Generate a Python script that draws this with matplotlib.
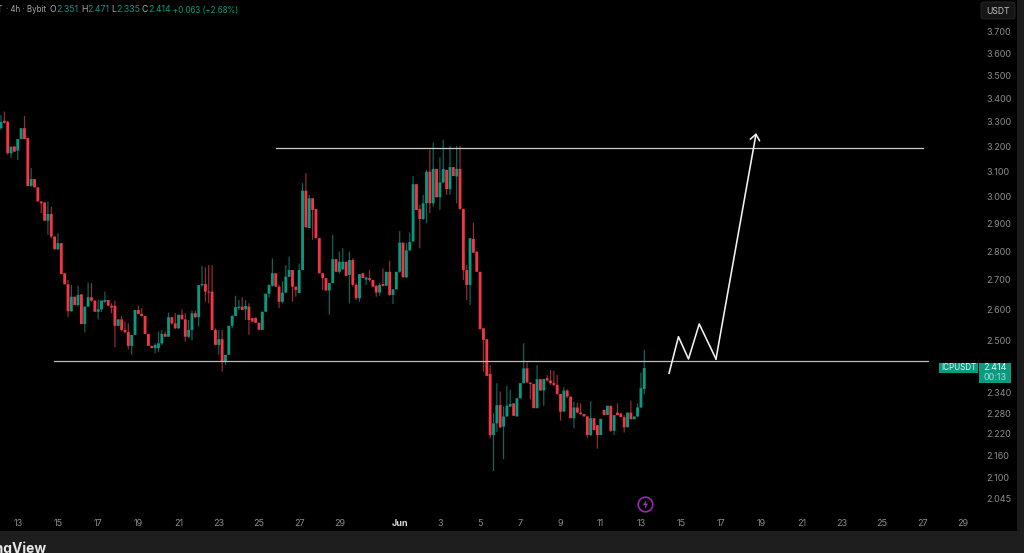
import pandas as pd
import matplotlib
matplotlib.use("Agg")
import matplotlib.pyplot as plt
from matplotlib.patches import Rectangle, FancyBboxPatch

# 4h candles
opens = [3.274, 3.305, 3.301, 3.171, 3.199, 3.182, 3.229, 3.274, 3.233, 3.042,
         3.069, 3.037, 2.983, 2.979, 2.911, 2.936, 2.853, 2.807, 2.829, 2.723,
         2.685, 2.595, 2.643, 2.615, 2.651, 2.553, 2.610, 2.641, 2.630, 2.593,
         2.601, 2.626, 2.632, 2.613, 2.613, 2.547, 2.568, 2.534, 2.527, 2.483,
         2.518, 2.599, 2.586, 2.579, 2.521, 2.483, 2.476, 2.476, 2.491, 2.521,
         2.512, 2.575, 2.555, 2.539, 2.583, 2.568, 2.512, 2.534, 2.588, 2.575,
         2.682, 2.686, 2.660, 2.660, 2.534, 2.486, 2.504, 2.434, 2.455, 2.547,
         2.579, 2.605, 2.610, 2.601, 2.610, 2.572, 2.572, 2.557, 2.534, 2.593,
         2.653, 2.680, 2.723, 2.677, 2.626, 2.657, 2.711, 2.734, 2.677, 2.655,
         2.734, 3.024, 2.884, 2.995, 2.954, 2.847, 2.723, 2.706, 2.664, 2.689,
         2.772, 2.728, 2.737, 2.763, 2.717, 2.769, 2.683, 2.638, 2.723, 2.701,
         2.706, 2.700, 2.680, 2.657, 2.686, 2.680, 2.728, 2.649, 2.668, 2.728,
         2.831, 2.709, 2.803, 2.835, 3.049, 2.954, 2.917, 2.976, 3.098, 2.976,
         3.109, 2.999, 3.056, 3.105, 3.030, 3.116, 3.079, 3.109, 2.955, 2.734,
         2.683, 2.844, 2.799, 2.728, 2.539, 2.504, 2.396, 2.217, 2.250, 2.303,
         2.241, 2.270, 2.299, 2.308, 2.270, 2.323, 2.368, 2.413, 2.370, 2.366,
         2.294, 2.380, 2.346, 2.383, 2.376, 2.368, 2.363, 2.336, 2.284, 2.346,
         2.328, 2.265, 2.296, 2.281, 2.277, 2.270, 2.217, 2.265, 2.245, 2.217,
         2.289, 2.274, 2.301, 2.229, 2.281, 2.279, 2.268, 2.239, 2.281, 2.262,
         2.270, 2.296, 2.351]
highs = [3.329, 3.344, 3.305, 3.198, 3.199, 3.229, 3.274, 3.325, 3.233, 3.112,
         3.069, 3.037, 2.983, 2.979, 2.983, 2.963, 2.853, 2.865, 2.829, 2.723,
         2.700, 2.683, 2.643, 2.680, 2.651, 2.610, 2.691, 2.689, 2.630, 2.632,
         2.630, 2.660, 2.632, 2.621, 2.630, 2.568, 2.579, 2.561, 2.555, 2.518,
         2.599, 2.613, 2.605, 2.579, 2.521, 2.483, 2.491, 2.529, 2.534, 2.529,
         2.590, 2.577, 2.588, 2.583, 2.601, 2.588, 2.566, 2.597, 2.597, 2.682,
         2.748, 2.743, 2.751, 2.751, 2.539, 2.534, 2.534, 2.455, 2.547, 2.583,
         2.646, 2.632, 2.641, 2.632, 2.621, 2.572, 2.575, 2.557, 2.593, 2.653,
         2.683, 2.775, 2.723, 2.683, 2.694, 2.751, 2.781, 2.734, 2.677, 2.757,
         3.053, 3.092, 3.008, 2.995, 2.954, 2.847, 2.723, 2.706, 2.689, 2.859,
         2.772, 2.799, 2.811, 2.763, 2.799, 2.775, 2.689, 2.720, 2.723, 2.711,
         2.734, 2.700, 2.683, 2.689, 2.740, 2.728, 2.767, 2.668, 2.728, 2.873,
         2.831, 2.829, 2.867, 3.081, 3.049, 2.970, 3.008, 3.105, 3.185, 3.215,
         3.109, 3.156, 3.226, 3.105, 3.201, 3.116, 3.201, 3.201, 2.955, 2.751,
         2.847, 2.904, 2.799, 2.728, 2.539, 2.504, 2.423, 2.280, 2.368, 2.343,
         2.299, 2.360, 2.348, 2.308, 2.323, 2.368, 2.491, 2.431, 2.370, 2.366,
         2.423, 2.380, 2.381, 2.393, 2.408, 2.406, 2.393, 2.336, 2.356, 2.350,
         2.328, 2.313, 2.310, 2.308, 2.277, 2.270, 2.315, 2.265, 2.245, 2.263,
         2.289, 2.301, 2.301, 2.274, 2.308, 2.279, 2.274, 2.281, 2.316, 2.270,
         2.308, 2.400, 2.471]
lows = [3.267, 3.294, 3.165, 3.152, 3.178, 3.145, 3.229, 3.229, 3.042, 3.040,
        3.037, 2.983, 2.939, 2.911, 2.859, 2.847, 2.807, 2.805, 2.720, 2.685,
        2.576, 2.593, 2.615, 2.610, 2.553, 2.526, 2.610, 2.626, 2.593, 2.568,
        2.593, 2.621, 2.613, 2.588, 2.479, 2.547, 2.529, 2.523, 2.472, 2.455,
        2.518, 2.586, 2.577, 2.521, 2.483, 2.476, 2.460, 2.464, 2.486, 2.512,
        2.512, 2.550, 2.537, 2.537, 2.568, 2.497, 2.507, 2.500, 2.572, 2.544,
        2.677, 2.626, 2.621, 2.534, 2.486, 2.455, 2.403, 2.423, 2.455, 2.539,
        2.579, 2.599, 2.599, 2.566, 2.518, 2.561, 2.557, 2.534, 2.534, 2.593,
        2.640, 2.677, 2.677, 2.605, 2.621, 2.655, 2.709, 2.626, 2.643, 2.655,
        2.734, 2.884, 2.884, 2.841, 2.847, 2.723, 2.666, 2.664, 2.583, 2.689,
        2.728, 2.723, 2.734, 2.714, 2.621, 2.677, 2.632, 2.626, 2.706, 2.683,
        2.694, 2.677, 2.643, 2.646, 2.677, 2.680, 2.646, 2.619, 2.668, 2.725,
        2.709, 2.706, 2.803, 2.835, 2.951, 2.811, 2.914, 2.902, 2.939, 2.963,
        2.999, 2.951, 3.053, 3.008, 3.008, 3.081, 2.976, 2.951, 2.700, 2.632,
        2.615, 2.795, 2.728, 2.536, 2.403, 2.390, 2.208, 2.118, 2.226, 2.236,
        2.150, 2.270, 2.297, 2.272, 2.270, 2.323, 2.368, 2.370, 2.320, 2.294,
        2.294, 2.346, 2.301, 2.373, 2.363, 2.360, 2.333, 2.258, 2.284, 2.323,
        2.265, 2.236, 2.279, 2.274, 2.270, 2.210, 2.214, 2.231, 2.179, 2.217,
        2.274, 2.274, 2.225, 2.217, 2.274, 2.268, 2.224, 2.239, 2.262, 2.262,
        2.268, 2.296, 2.335]
closes = [3.300, 3.297, 3.172, 3.198, 3.178, 3.229, 3.274, 3.229, 3.042, 3.069,
          3.037, 2.983, 2.976, 2.911, 2.936, 2.853, 2.807, 2.829, 2.720, 2.685,
          2.595, 2.643, 2.615, 2.649, 2.553, 2.610, 2.641, 2.630, 2.593, 2.601,
          2.630, 2.632, 2.613, 2.607, 2.547, 2.568, 2.534, 2.527, 2.483, 2.518,
          2.599, 2.586, 2.579, 2.521, 2.483, 2.476, 2.486, 2.491, 2.521, 2.512,
          2.575, 2.555, 2.539, 2.583, 2.568, 2.512, 2.534, 2.588, 2.575, 2.682,
          2.686, 2.660, 2.657, 2.534, 2.486, 2.504, 2.434, 2.455, 2.547, 2.579,
          2.608, 2.610, 2.599, 2.612, 2.566, 2.561, 2.557, 2.534, 2.593, 2.653,
          2.683, 2.723, 2.677, 2.626, 2.657, 2.711, 2.734, 2.677, 2.666, 2.734,
          3.024, 2.887, 2.995, 2.951, 2.847, 2.723, 2.706, 2.664, 2.689, 2.772,
          2.728, 2.763, 2.763, 2.714, 2.769, 2.683, 2.638, 2.720, 2.706, 2.708,
          2.700, 2.677, 2.657, 2.683, 2.680, 2.728, 2.649, 2.668, 2.728, 2.831,
          2.709, 2.803, 2.833, 3.049, 2.951, 2.917, 2.976, 3.098, 2.976, 3.109,
          2.999, 3.056, 3.109, 3.030, 3.116, 3.081, 3.109, 2.955, 2.734, 2.683,
          2.847, 2.795, 2.728, 2.536, 2.502, 2.390, 2.217, 2.250, 2.303, 2.239,
          2.270, 2.301, 2.306, 2.272, 2.323, 2.368, 2.413, 2.370, 2.366, 2.294,
          2.380, 2.346, 2.381, 2.376, 2.368, 2.363, 2.336, 2.284, 2.346, 2.328,
          2.265, 2.296, 2.281, 2.277, 2.270, 2.217, 2.265, 2.231, 2.217, 2.263,
          2.274, 2.301, 2.229, 2.274, 2.274, 2.268, 2.239, 2.281, 2.262, 2.270,
          2.296, 2.353, 2.414]

price_ticks = [3.7, 3.6, 3.5, 3.4, 3.3, 3.2, 3.1, 3.0, 2.9, 2.8, 2.7, 2.6, 2.5,
               2.34, 2.28, 2.22, 2.16, 2.1, 2.045]
date_ticks = ["05-13", "05-15", "05-17", "05-19", "05-21", "05-23", "05-25",
              "05-27", "05-29", "05-31", "06-01", "06-03", "06-05", "06-07",
              "06-09", "06-11", "06-13", "06-15", "06-17", "06-19", "06-21",
              "06-23", "06-25", "06-27", "06-29"]
date_labels = ["13", "15", "17", "19", "21", "23", "25", "27", "29", "", "Jun",
               "3", "5", "7", "9", "11", "13", "15", "17", "19", "21", "23",
               "25", "27", "29"]

# hand drawn lines on the chart, (candle number, price)
resistance = ([82, 275.2], [3.191, 3.191])
support = ([15.8, 276.7], [2.436, 2.436])
path_x = [199.4, 202.2, 205.2, 208.4, 213.4, 225.4]
path_y = [2.398, 2.512, 2.442, 2.553, 2.442, 3.254]

plt.rcParams["font.family"] = ["Inter", "DejaVu Sans"]

GREEN = "#089981"
RED = "#f23645"
AXIS_TEXT = "#8c8c8c"
PANEL = "#1c1c1c"

fig = plt.figure(figsize=(10.24, 5.53), dpi=100, facecolor="black")
ax = fig.add_axes([0, (553 - 513) / 553, 982 / 1024, 513 / 553], facecolor="black")

# one x unit is one 4h candle
t0 = pd.Timestamp("2025-05-12 04:00")
x = list(range(len(closes)))
tick_x = [(pd.Timestamp("2025-" + d) - t0) / pd.Timedelta(hours=4) for d in date_ticks]

up = [c >= o for o, c in zip(opens, closes)]
colors = [GREEN if u else RED for u in up]
wick_colors = ["#0b6a5c" if u else "#9a2c38" for u in up]

ax.vlines(x, lows, highs, colors=wick_colors, linewidth=0.85, zorder=2, snap=False)
ax.bar(x, [abs(c - o) for o, c in zip(opens, closes)],
       bottom=[min(o, c) for o, c in zip(opens, closes)],
       width=0.85, color=colors, linewidth=0, zorder=3, snap=False)

ax.plot(*resistance, color="#cccccc", linewidth=0.9, zorder=4)
ax.plot(*support, color="#bdbdbd", linewidth=0.9, zorder=4)
ax.annotate("", xy=(path_x[-1], path_y[-1]), xytext=(path_x[-2], path_y[-2]),
            arrowprops=dict(arrowstyle="->,head_length=0.42,head_width=0.34",
                            color="#f2f2f2", linewidth=1.15, shrinkA=0, shrinkB=0),
            zorder=5)
ax.plot(path_x[:-1], path_y[:-1], color="#f2f2f2", linewidth=1.15, zorder=5)

ax.set_yscale("log")
ax.set_xlim(-0.3, 292.8)
ax.set_ylim(2.008, 3.853)
ax.yaxis.tick_right()
ax.set_yticks(price_ticks)
ax.set_yticklabels([f"{p:.3f}" for p in price_ticks])
ax.minorticks_off()
ax.set_xticks(tick_x)
ax.set_xticklabels(date_labels)
ax.tick_params(axis="both", length=0, colors=AXIS_TEXT, labelsize=6.5)
ax.tick_params(axis="y", pad=3)
ax.tick_params(axis="x", pad=4)
ax.get_xticklabels()[10].set_color("#d8d8d8")
ax.get_xticklabels()[10].set_fontweight("bold")
for spine in ax.spines.values():
    spine.set_visible(False)

# purple event marker with a bolt
ax.plot([192.2], [2.031], marker="o", markersize=10.5, markerfacecolor="black",
        markeredgecolor="#9c27b0", markeredgewidth=1.2, clip_on=False, zorder=5)
bolt = [(0.15, 1), (-0.55, -0.15), (-0.05, -0.15), (-0.15, -1), (0.55, 0.2), (0.05, 0.2)]
ax.plot([192.2], [2.031], marker=bolt, markersize=6.5, color="#a52fc0",
        markeredgewidth=0, clip_on=False, zorder=6)

# panels at the right and at the bottom
fig.patches.append(Rectangle((1017 / 1024, 0), 7 / 1024, 1, transform=fig.transFigure,
                             facecolor=PANEL, linewidth=0))
fig.patches.append(Rectangle((0, 0), 1, 22 / 553, transform=fig.transFigure,
                             facecolor="#1e1e1e", linewidth=0))


def px_text(px, py, s, **kw):
    return fig.text(px / 1024, 1 - py / 553, s, va="center", **kw)


px_text(-41, 549, "TradingView", color="#e8e8e8", fontsize=10, fontweight="bold")

# ohlc legend
px_text(-3, 10, "T", color="#a8a8a8", fontsize=6.3)
px_text(6, 10, "\u00b7 4h \u00b7 Bybit", color="#a8a8a8", fontsize=5.7)
for lx, s, color, size in [(50, "O", "#a8a8a8", 6.3), (56, "2.351", GREEN, 6.3),
                           (81, "H", "#a8a8a8", 6.3), (87, "2.471", GREEN, 6.3),
                           (111, "L", "#a8a8a8", 6.3), (116, "2.335", GREEN, 6.3),
                           (142, "C", "#a8a8a8", 6.3), (148, "2.414", GREEN, 6.3),
                           (173, "+0.063 (+2.68%)", GREEN, 5.7)]:
    px_text(lx, 10, s, color=color, fontsize=size)

# quote currency button
fig.patches.append(FancyBboxPatch((981 / 1024, 1 - 19 / 553), 34 / 1024, 17 / 553,
                                  boxstyle="round,pad=0,rounding_size=0.004",
                                  transform=fig.transFigure, facecolor="#161616",
                                  edgecolor="#2a2a2a", linewidth=0.6))
px_text(998, 11, "USDT", color="#c0c0c0", fontsize=6.2, ha="center")

# last price tag
fig.patches.append(Rectangle((939 / 1024, 1 - 373 / 553), 39 / 1024, 10 / 553,
                             transform=fig.transFigure, facecolor="#0a9a80", linewidth=0))
fig.patches.append(Rectangle((979 / 1024, 1 - 383 / 553), 32 / 1024, 20 / 553,
                             transform=fig.transFigure, facecolor="#0a9a80", linewidth=0))
px_text(958.5, 368, "ICPUSDT", color="#e6f5f2", fontsize=5.8, ha="center")
px_text(995, 368, "2.414", color="#e6f5f2", fontsize=6.5, ha="center")
px_text(995, 378, "00:13", color="#a5dcd2", fontsize=6.5, ha="center")

fig.savefig("out.png", dpi=100, facecolor="black")
